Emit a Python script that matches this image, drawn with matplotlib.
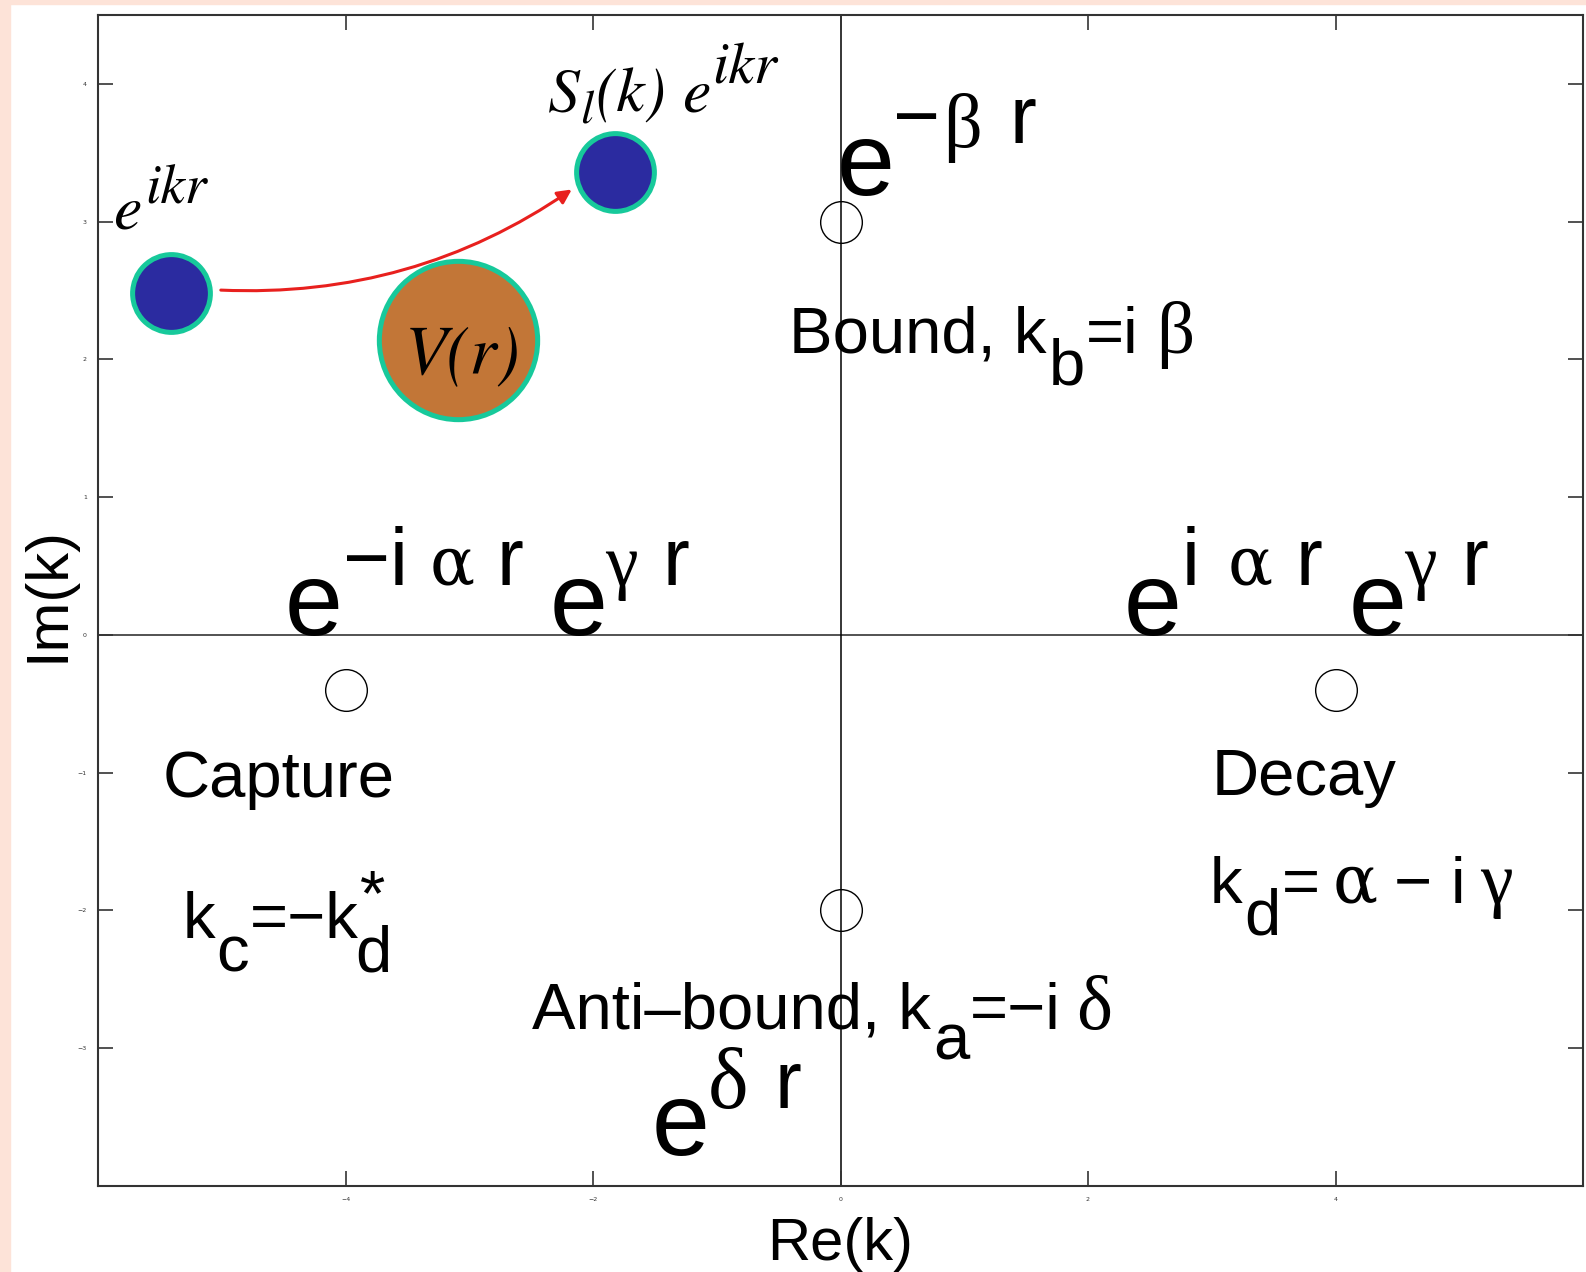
import matplotlib.pyplot as plt
from matplotlib.patches import FancyArrowPatch, Rectangle
from matplotlib.transforms import IdentityTransform

# poles of S(k) in the complex k plane
pole_re = [0, -4, 4, 0]
pole_im = [3, -0.4, -0.4, -2]
# incoming / outgoing wave blobs and the scattering potential
wave_re = [-5.41, -1.82]
wave_im = [2.48, 3.36]
pot_re = [-3.09]
pot_im = [2.14]

xticks = [-4, -2, 0, 2, 4]
yticks = [-3, -2, -1, 0, 1, 2, 3, 4]

SANS = dict(family='Liberation Sans')
GRK = dict(family='Liberation Serif')
ALF = dict(family='DejaVu Serif')
MATH = dict(family='STIXGeneral', style='italic')
E, SUP, T, G, A = 75, 58, 47, 53, 48

fig = plt.figure(figsize=(15.86, 12.72), dpi=100)
# peach slide border
fig.patches.append(Rectangle((0, 0), 10/1586, 1, transform=fig.transFigure,
                             color='#fde3d8', zorder=0))
fig.patches.append(Rectangle((0, 1-4/1272), 1, 4/1272, transform=fig.transFigure,
                             color='#fde3d8', zorder=0))

ax = fig.add_axes([98/1586, 86/1272, 1485/1586, 1171/1272])
ax.set_xlim(-6, 6)
ax.set_ylim(-4, 4.5)
ax.set_xticks(xticks)
ax.set_yticks(yticks)
ax.tick_params(direction='in', length=11, width=1.2, top=True, right=True,
               labelsize=4.5, pad=8, color='#333333', labelcolor='#333333')
for s in ax.spines.values():
    s.set_linewidth(1.5)
    s.set_color('#333333')

ax.axhline(0, color='#444444', lw=1.3, zorder=1)
ax.axvline(0, color='black', lw=1.1, zorder=1)

# poles
ax.plot(pole_re, pole_im, 'o', ms=30, mfc='none', mec='black', mew=1.0, zorder=3)

# scattering cartoon
arr = FancyArrowPatch((-5.03, 2.504), (-2.153, 3.245), connectionstyle='arc3,rad=0.17',
                      arrowstyle='-|>,head_length=0.6,head_width=0.3', mutation_scale=14,
                      color='#e8201e', lw=2.2, zorder=2.5)
ax.add_patch(arr)
ax.plot(wave_re, wave_im, 'o', ms=56, mfc='#2b2ba0', mec='#17c99b', mew=3.6, zorder=4)
ax.plot(pot_re, pot_im, 'o', ms=114, mfc='#c27637', mec='#17c99b', mew=3.6, zorder=4)
ax.text(-3.05, 2.02, 'V(r)', fontsize=50, ha='center', va='center', zorder=5, **MATH)

r = fig.canvas.get_renderer()


def rich(x, y, parts):
    # lay out text pieces one after another, numbers are extra gaps in px
    px, py = ax.transData.transform((x, y))
    for p in parts:
        if not isinstance(p, tuple):
            px += p
            continue
        s, size, rise, font = p[:4]
        t = fig.text(px, py + rise, s, transform=IdentityTransform(), fontsize=size,
                     va='baseline', ha='left', zorder=5, **font)
        if len(p) < 5:
            px = t.get_window_extent(r).x1


rich(-5.879, 2.947, [('e', 46, 0, MATH), 4, ('ikr', 40, 25, MATH)])
rich(-2.364, 3.796, [('S', 46, 0, MATH), ('l', 34, -12, MATH), 2, ('(k)', 46, 0, MATH),
                     16, ('e', 46, 0, MATH), 2, ('ikr', 42, 28, MATH)])

rich(-0.03, 3.19, [('e', E, 0, SANS), -2, ('−', SUP, 52, SANS), 3, ('β', 55, 48, GRK),
                   28, ('r', SUP, 52, SANS)])
rich(-0.42, 2.047, [('Bound, k', T, 0, SANS), 3, ('b', T, -32, SANS), 1, ('=i', T, 0, SANS),
                    17, ('β', 54, 0, GRK)])
rich(-4.489, 0.0, [('e', E, 0, SANS), 0, ('−i', SUP, 50, SANS), 22, ('α', A, 50, ALF),
                   22, ('r', SUP, 50, SANS), 26, ('e', E, 0, SANS), -2, ('γ', G, 50, GRK),
                   24, ('r', SUP, 50, SANS)])
rich(2.29, 0.0, [('e', E, 0, SANS), 0, ('i', SUP, 50, SANS), 28, ('α', A, 50, ALF),
                 23, ('r', SUP, 50, SANS), 26, ('e', E, 0, SANS), -2, ('γ', G, 50, GRK),
                 24, ('r', SUP, 50, SANS)])
rich(-5.475, -1.175, [('Capture', T, 0, SANS)])
rich(-5.314, -2.198, [('k', T, 0, SANS), 1, ('c', T, -34, SANS), 1, ('=−k', T, 0, SANS),
                      1, ('*', T, 23, SANS, False), -5, ('d', T, -34, SANS)])
rich(2.995, -1.160, [('Decay', T, 0, SANS)])
rich(2.985, -1.944, [('k', T, 0, SANS), 2, ('d', T, -32, SANS), 1, ('=', T, 0, SANS),
                     13, ('α', A, 0, ALF), 16, ('−', T, 0, SANS), 19, ('i', T, 0, SANS),
                     15, ('γ', G, 0, GRK)])
rich(-2.49, -2.858, [('Anti–bound, k', T, 0, SANS), 2, ('a', T, -31, SANS), 0,
                     ('=−i', T, 0, SANS), 16, ('δ', 55, 0, GRK)])
rich(-1.523, -3.773, [('e', E, 0, SANS), -2, ('δ', 62, 47, GRK), 26, ('r', SUP, 47, SANS)])

fig.text(840/1586, 28/1272, 'Re(k)', fontsize=43, ha='center', va='center', **SANS)
fig.text(48/1586, 1-594/1272, 'Im(k)', fontsize=43, ha='center', va='center',
         rotation=90, **SANS)

fig.savefig('out.png', dpi=100, facecolor='white')
